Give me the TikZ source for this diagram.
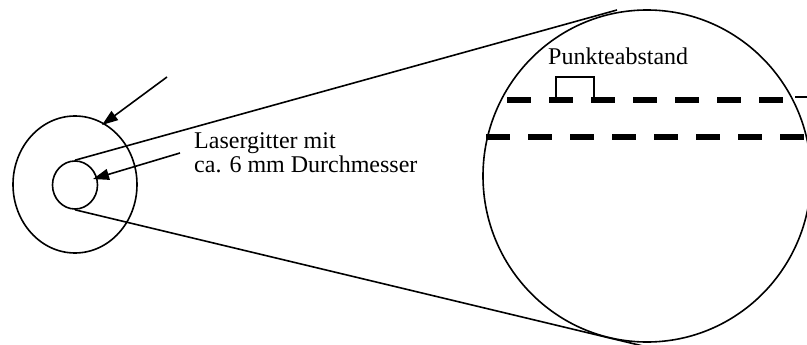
\documentclass[tikz,border=0pt]{standalone}
\usepackage{fontspec}
\setmainfont{Liberation Serif}
\usetikzlibrary{shapes.geometric,arrows.meta}
\begin{document}
\begin{tikzpicture}[x=1pt,y=-1pt,
  thin line/.style={line width=1.6pt},
  ring/.style={ellipse,draw,line width=1.6pt,inner sep=0pt},
  pointer/.style={line width=1.6pt,-{Triangle[length=16pt,width=11pt]}},
  laser/.style={line width=5.5pt,dash pattern=on 24pt off 18pt},
  lbl/.style={font=\fontsize{24pt}{24pt}\selectfont,inner sep=0pt,anchor=base west}]
\useasboundingbox (0,0) rectangle (807,345);
\clip (0,0) rectangle (807,345);
% rings
\node[ring,minimum width=124pt,minimum height=137pt] (outer) at (75,184.5) {};
\node[ring,minimum width=45pt,minimum height=48pt] (inner) at (75,185) {};
\node[ring,minimum width=328pt,minimum height=332pt] (big) at (647,176) {};
% tangent lines
\coordinate (topend) at (617,10);
\coordinate (botend) at (643,346);
\draw[thin line] (inner.north) -- (topend);
\draw[thin line] (inner.south) -- (botend);
% arrows
\coordinate (a1s) at (167,77);
\coordinate (a1t) at (102,125);
\coordinate (a2s) at (180,153);
\coordinate (a2t) at (93,179);
\draw[pointer] (a1s) -- (a1t);
\draw[pointer] (a2s) -- (a2t);
% labels
\node[lbl] (las1) at (194,148) {Lasergitter mit};
\node[lbl] (las2) at (194,172) {ca. 6 mm Durchmesser};
\node[lbl] (pkt) at (548,65) {Punkteabstand};
% dashed laser lines
\coordinate (l1a) at (507,100);
\coordinate (l1b) at (783,100);
\coordinate (l2a) at (486,137);
\coordinate (l2b) at (807,137);
\draw[laser] (l1a) -- (l1b);
\draw[laser] (l2a) -- (l2b);
% spacing bracket
\coordinate (b1) at (556,100);
\coordinate (b2) at (594,100);
\draw[thin line] (b1) -- ++(0,-23) -| (b2);
% short line at right
\coordinate (r1) at (795,97);
\coordinate (r2) at (807,97);
\draw[thin line] (r1) -- (r2);
\end{tikzpicture}
\end{document}
